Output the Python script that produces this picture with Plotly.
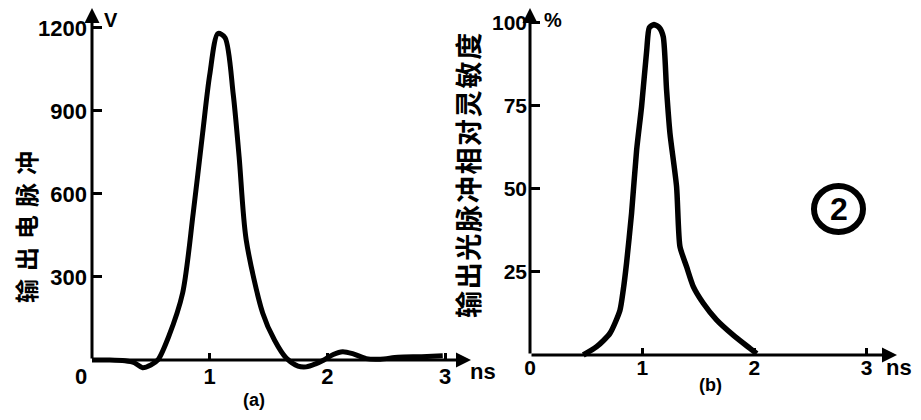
import plotly.graph_objects as go

# (a) output electrical pulse, V vs ns
t_a = [0, 0.15, 0.28, 0.36, 0.43, 0.5, 0.56, 0.65, 0.77, 0.86, 0.94, 1.0, 1.07, 1.13,
       1.2, 1.25, 1.31, 1.45, 1.55, 1.65, 1.75, 1.82, 1.9, 1.97, 2.05, 2.13, 2.22,
       2.33, 2.45, 2.6, 2.8, 2.98]
v_a = [0, 0, -3, -10, -28, -18, 0, 83, 242, 531, 820, 1030, 1180, 1165,
       960, 734, 434, 170, 72, 7, -22, -25, -14, 0, 20, 30, 22,
       5, 3, 10, 12, 15]

# (b) relative sensitivity of output light pulse, % vs ns
t_b = [0.475, 0.594, 0.712, 0.801, 0.831, 0.86, 0.905, 0.95, 0.994, 1.04, 1.063, 1.105,
       1.152, 1.187, 1.217, 1.247, 1.306, 1.336, 1.395, 1.455, 1.544, 1.662, 1.811, 1.96, 2.02]
p_b = [0, 2.5, 6.5, 13.4, 19.6, 27.6, 42.7, 61.7, 74.8, 91.8, 98.6, 99.5,
       98.6, 95.9, 79.8, 66.8, 50.7, 32.7, 26.6, 20.6, 15.6, 10.6, 6.0, 2.0, 0.4]

x_ticks = [0, 1, 2, 3]
x_labels_a = ["0\u2002\u2002", "1", "2", "3"]
x_labels_b = ["0", "1", "2", "3"]
y_ticks_a = [300, 600, 900, 1200]
y_ticks_b = [25, 50, 75, 100]

# The page body has an 8px margin, so the figure is drawn at (8, 8) in the window.
OFF = 8
W, H = 921 - OFF, 420 - OFF


def fx(px):  # window pixel x -> paper x
    return (px - OFF) / W


def fy(py):  # window pixel y (from top) -> paper y
    return 1 - (py - OFF) / H


NUM = dict(family="Liberation Sans", size=22, color="black", weight="bold")
NUM_B = dict(NUM, size=21)
CJK = dict(family="Noto Sans CJK SC", size=24, color="black", weight="bold")

fig = go.Figure()
fig.add_trace(go.Scatter(x=t_a, y=v_a, mode="lines", xaxis="x", yaxis="y",
                         line=dict(color="black", width=5, shape="spline", smoothing=0.8),
                         showlegend=False, hoverinfo="skip"))
fig.add_trace(go.Scatter(x=t_b, y=p_b, mode="lines", xaxis="x2", yaxis="y2",
                         line=dict(color="black", width=5.5, shape="spline", smoothing=0.6),
                         showlegend=False, hoverinfo="skip"))

ax_common = dict(showgrid=False, zeroline=False, showline=False, ticks="inside",
                 tickcolor="black", tickwidth=2.5, fixedrange=True, automargin=False)

# left panel: x=0 at px 92, 117.7 px/ns; y=0 at px 360, 0.2767 px/V
# right panel: x=0 at px 530, 112.3 px/ns; y=0 at px 355, 3.32 px/%
fig.update_layout(
    template="none",
    width=W, height=H, autosize=False,
    margin=dict(l=0, r=0, t=0, b=0, pad=0),
    paper_bgcolor="white", plot_bgcolor="white",
    xaxis=dict(domain=[fx(92), fx(471)], range=[0, 3.22], anchor="free",
               position=fy(360), tickvals=x_ticks, ticktext=x_labels_a, ticklen=7,
               tickfont=NUM, ticklabelstandoff=1, **ax_common),
    yaxis=dict(domain=[fy(382.1), fy(8)], range=[-80, 1272], anchor="x",
               tickvals=y_ticks_a, ticklen=10, tickfont=NUM, ticklabelstandoff=4,
               **ax_common),
    xaxis2=dict(domain=[fx(530), fx(897)], range=[0, 3.27], anchor="free",
                position=fy(355), tickvals=x_ticks, ticktext=x_labels_b, ticklen=7,
                tickfont=NUM_B, ticklabelstandoff=-2, **ax_common),
    yaxis2=dict(domain=[fy(371.6), fy(8)], range=[-5, 104.5], anchor="x2",
                tickvals=y_ticks_b, ticklen=10, tickfont=NUM_B, ticklabelstandoff=2,
                **ax_common),
)

# axis lines with arrowheads
arrow = dict(text="", showarrow=True, arrowhead=2, arrowsize=1, arrowwidth=3,
             arrowcolor="black", standoff=0, startstandoff=0)
fig.add_annotation(x=3.22, y=0, ax=0, ay=0, xref="x", yref="y", axref="x", ayref="y", **arrow)
fig.add_annotation(x=0, y=1272, ax=0, ay=0, xref="x", yref="y", axref="x", ayref="y", **arrow)
fig.add_annotation(x=3.27, y=0, ax=0, ay=0, xref="x2", yref="y2", axref="x2", ayref="y2", **arrow)
fig.add_annotation(x=0, y=104.5, ax=0, ay=0, xref="x2", yref="y2", axref="x2", ayref="y2", **arrow)


def label(txt, px, py, font=NUM, angle=0):
    fig.add_annotation(text=txt, x=fx(px), y=fy(py), xref="paper", yref="paper",
                       showarrow=False, font=font, textangle=angle,
                       xanchor="center", yanchor="middle")


# unit labels at the very top: anchored to the top edge of the figure
for txt, px in (("V", 111), ("%", 553)):
    fig.add_annotation(text=txt, x=fx(px), y=1, xref="paper", yref="paper",
                       showarrow=False, font=dict(NUM, size=20), borderpad=0,
                       xanchor="center", yanchor="top")

label("ns", 483, 371)
label("ns", 899, 367)
label("(a)", 254, 400, dict(NUM, size=18))
label("(b)", 710, 385, dict(NUM, size=18))
label("\u2004".join("输出电脉冲"), 25, 227, CJK, -90)
label("\u200a".join("输出光脉冲相对灵敏度"), 467, 176, dict(CJK, size=27), -90)

# circled figure number
fig.add_shape(type="circle", xref="paper", yref="paper",
              x0=fx(814), x1=fx(863), y0=fy(232), y1=fy(186),
              line=dict(color="black", width=6))
label("2", 838.5, 209, dict(NUM, size=32, weight=900))

fig.write_html("out.html")
